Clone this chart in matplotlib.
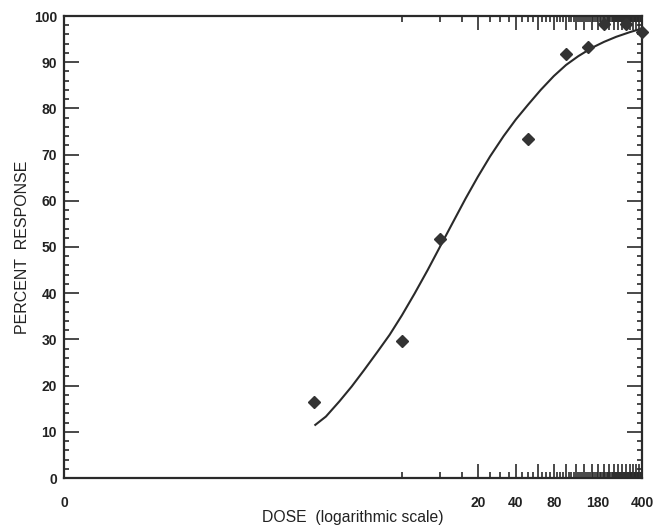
import matplotlib
matplotlib.use("Agg")
import matplotlib.pyplot as plt
from matplotlib.ticker import FixedLocator, NullFormatter, FixedFormatter

plt.rcParams['font.family'] = ['Liberation Sans', 'DejaVu Sans']

# Observed data (diamonds)
dose = [1, 5, 10, 50, 100, 150, 200, 300, 400]
response = [16.5, 29.7, 51.7, 73.3, 91.7, 93.2, 98.3, 98.3, 96.5]

# Fitted curve
curve_dose = [1.03, 1.25, 1.6, 2.0, 2.5, 3.2, 4.0, 5.0, 6.3, 8.0, 10, 12.5, 16, 20, 25, 32,
              40, 50, 63, 80, 100, 125, 160, 200, 250, 320, 400]
curve_response = [11.5, 13.3, 16.6, 19.8, 23.3, 27.3, 31.0, 35.2, 39.9, 45.0, 50.0, 55.0, 60.5,
                  65.2, 69.6, 74.0, 77.6, 80.8, 84.0, 87.0, 89.4, 91.3, 93.1, 94.4, 95.5, 96.5, 97.3]

x_min = 0.0105
x_max = 400
x_label_pos = [x_min, 20, 40, 80, 180, 400]
x_label_txt = ["0", "20", "40", "80", "180", "400"]
x_major = [20 * k for k in range(1, 21)]
x_minor = [5 * k for k in range(1, 80) if (5 * k) % 20 != 0]
y_major = list(range(0, 101, 10))
y_minor = [v for v in range(0, 101, 2) if v % 10 != 0]

fig = plt.figure(figsize=(6.62, 5.25), dpi=100)
ax = fig.add_axes([64 / 662, 1 - 478 / 525, (642 - 64) / 662, (478 - 16) / 525])

ink = '#2a2a2a'
ax.plot(curve_dose, curve_response, color=ink, lw=1.5, zorder=3)
ax.plot(dose, response, linestyle='none', marker='D', markersize=6, color='#333333',
        zorder=4, clip_on=False)

ax.set_xscale('log')
ax.set_xlim(x_min, x_max)
ax.set_ylim(0, 100)

major_pos = [x_min] + x_major
major_lbl = []
for p in major_pos:
    if p in x_label_pos:
        major_lbl.append(x_label_txt[x_label_pos.index(p)])
    else:
        major_lbl.append("")
ax.xaxis.set_major_locator(FixedLocator(major_pos))
ax.xaxis.set_major_formatter(FixedFormatter(major_lbl))
ax.xaxis.set_minor_locator(FixedLocator(x_minor))
ax.xaxis.set_minor_formatter(NullFormatter())

ax.yaxis.set_major_locator(FixedLocator(y_major))
ax.yaxis.set_minor_locator(FixedLocator(y_minor))
ax.yaxis.set_minor_formatter(NullFormatter())

for s in ax.spines.values():
    s.set_color(ink)
    s.set_linewidth(1.6)

ax.tick_params(which='both', direction='in', top=True, right=True, color=ink, width=1.2)
ax.tick_params(axis='x', which='major', length=10, pad=13)
ax.tick_params(axis='x', which='minor', length=4.3)
ax.tick_params(axis='y', which='major', length=10.8, pad=5)
ax.tick_params(axis='y', which='minor', length=3.8)

for lbl in ax.get_xticklabels() + ax.get_yticklabels():
    lbl.set_fontweight('bold')
    lbl.set_fontsize(10)
    lbl.set_color('#222222')

ax.set_xlabel("DOSE  (logarithmic scale)", fontsize=11.3, color='#222222', labelpad=0)
ax.set_ylabel("PERCENT  RESPONSE", fontsize=11.5, color='#222222', labelpad=3)

fig.savefig("out.png", dpi=100, facecolor='white')
